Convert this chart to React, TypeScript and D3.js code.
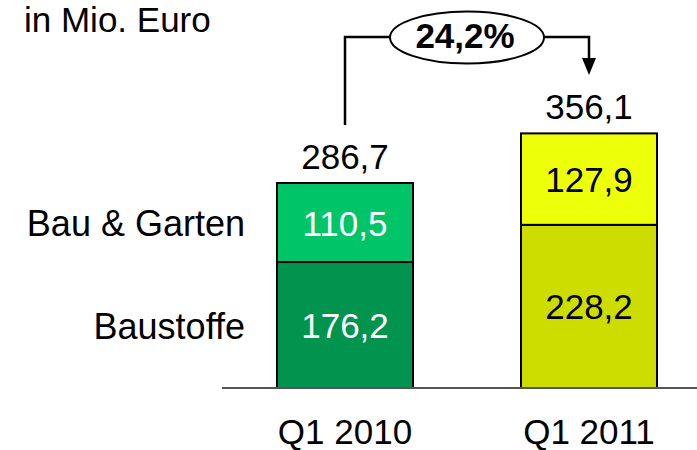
import React from "react";
import * as d3 from "d3";

const categories = ["Q1 2010", "Q1 2011"];
const segments = ["Baustoffe", "Bau & Garten"];
const baustoffe = [176.2, 228.2];
const bauGarten = [110.5, 127.9];
const totals = [286.7, 356.1];
const growthLabel = "24,2%";
const unitLabel = "in Mio. Euro";

const fillColors = [
  ["#00944F", "#00C468"],
  ["#CEDD00", "#EEFF0A"],
];
const textColors = [["#FFFFFF", "#FFFFFF"], ["#000000", "#000000"]];

const fmt = (v: number) => v.toFixed(1).replace(".", ",");

export default function App() {
  const W = 697, H = 450;
  const baseY = 388;
  const x = d3.scalePoint<string>().domain(categories).range([345, 589]);
  const y = d3.scaleLinear().domain([0, 400]).range([baseY, baseY - 286]);
  const font = "Arial, 'Liberation Sans', Helvetica, sans-serif";
  const fs = 35;

  const stacks = categories.map((c, i) => {
    const vals = [baustoffe[i], bauGarten[i]];
    let acc = 0;
    return vals.map((v, j) => {
      const y0 = acc;
      acc += v;
      return { c, i, j, v, y0, y1: acc };
    });
  });

  const bw = 136;
  const cx = (i: number) => x(categories[i]) as number;
  const barX = (i: number) => cx(i) - bw / 2;

  const lx = cx(0), rx = cx(1);
  const lineY = 37;
  const ellCx = 467, ellRx = 77, ellRy = 26;

  return (
    <svg width={W} height={H} style={{ position: "absolute", left: 0, top: 0 }} fontFamily={font}>
      <text x={24} y={32} fontSize={35}>{unitLabel}</text>

      {stacks.map((st) =>
        st.map((s) => (
          <g key={`${s.i}-${s.j}`}>
            <rect x={barX(s.i)} y={y(s.y1)} width={bw} height={y(s.y0) - y(s.y1)}
              fill={fillColors[s.i][s.j]} stroke="#000" strokeWidth={2} />
            <text x={cx(s.i)} y={(y(s.y0) + y(s.y1)) / 2 + 13} textAnchor="middle"
              fontSize={fs} fill={textColors[s.i][s.j]}>{fmt(s.v)}</text>
          </g>
        ))
      )}

      <line x1={222} x2={697} y1={baseY} y2={baseY} stroke="#555" strokeWidth={2} />

      {categories.map((c, i) => (
        <text key={c} x={cx(i)} y={444} textAnchor="middle" fontSize={fs}>{c}</text>
      ))}

      {totals.map((t, i) => (
        <text key={i} x={cx(i)} y={y(t) - 14} textAnchor="middle" fontSize={fs}>{fmt(t)}</text>
      ))}

      <text x={245} y={y(baustoffe[0] + bauGarten[0] / 2) + 13} textAnchor="end" fontSize={36}>{segments[1]}</text>
      <text x={245} y={y(baustoffe[0] / 2) + 14} textAnchor="end" fontSize={36}>{segments[0]}</text>

      <path d={`M${lx},${y(totals[0]) - 58} V${lineY} H${ellCx - ellRx}`} fill="none" stroke="#000" strokeWidth={2.5} />
      <path d={`M${ellCx + ellRx},${lineY} H${rx} V${60}`} fill="none" stroke="#000" strokeWidth={2.5} />
      <path d={`M${rx - 7},${58} L${rx + 7},${58} L${rx},${75} Z`} fill="#000" />
      <ellipse cx={ellCx} cy={lineY + 0.5} rx={ellRx} ry={ellRy} fill="#fff" stroke="#000" strokeWidth={2} />
      <text x={ellCx - 2} y={48} textAnchor="middle" fontSize={35} fontWeight="bold">{growthLabel}</text>
    </svg>
  );
}
